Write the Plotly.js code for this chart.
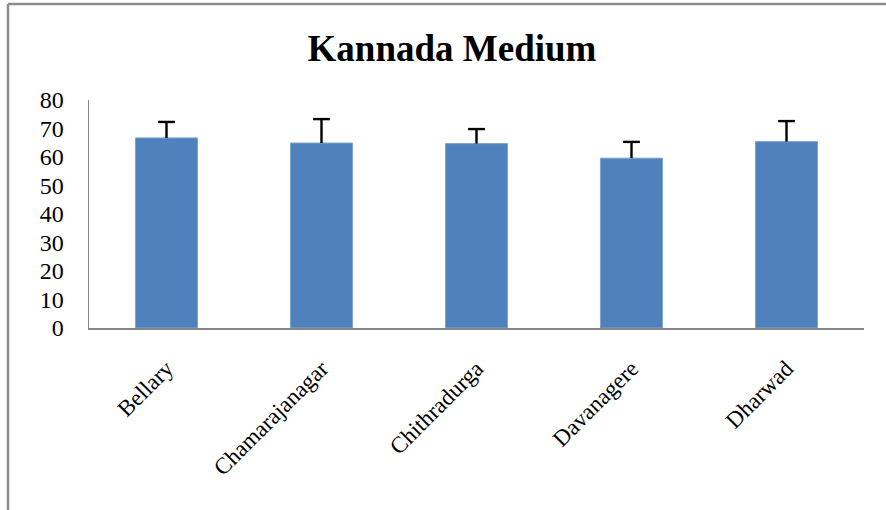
<!DOCTYPE html>
<html><head><meta charset="utf-8">
<script src="https://cdn.plot.ly/plotly-3.0.1.min.js"></script>
<style>html,body{margin:0;padding:0;background:#fff}#chart{width:886px;height:510px}</style>
</head><body><div id="chart"></div>
<script>
const categories = ["Bellary", "Chamarajanagar", "Chithradurga", "Davanagere", "Dharwad"];
const means = [66.7, 64.9, 64.7, 59.6, 65.4];
const errPlus = [5.6, 8.4, 5.1, 5.7, 7.2];
const errMinus = [0, 0, 0, 0, 0];
const yTicks = [0, 10, 20, 30, 40, 50, 60, 70, 80];

const W = 886, H = 510, L = 89, R = 22, T = 100, B = 182;
const pw = W - L - R, ph = H - T - B;
const px = x => (x - L) / pw;
const py = y => (H - B - y) / ph;
const SERIF = "Liberation Serif";

const capTops = means.map((m, i) => m + errPlus[i]);

const bars = {
  type: "bar", x: categories, y: means,
  marker: {color: "#4F81BD", line: {color: "#7FA3D0", width: 1}},
  error_y: {type: "data", symmetric: false, array: errPlus, arrayminus: errMinus,
            color: "#000", thickness: 2.4, width: 0},
  hoverinfo: "skip"
};
const caps = {
  type: "scatter", mode: "markers", x: categories, y: capTops,
  marker: {symbol: "line-ew", size: 12, color: "#000", line: {color: "#000", width: 2.4}},
  hoverinfo: "skip", cliponaxis: false
};
const layout = {
  width: W, height: H,
  margin: {l: L, r: R, t: T, b: B},
  paper_bgcolor: "#fff", plot_bgcolor: "#fff",
  bargap: 0.6, showlegend: false,
  font: {family: SERIF, color: "#000"},
  title: {text: "<b>Kannada Medium</b>", x: 452/886, xanchor: "center", y: 1 - 48/510, yanchor: "middle", yref: "container",
          font: {family: SERIF, size: 37, color: "#000"}},
  xaxis: {type: "category", showline: true, linecolor: "#868686", linewidth: 2, ticks: "",
          tickangle: -45, tickfont: {family: SERIF, size: 23}, ticklabelstandoff: 16, showgrid: false, zeroline: false},
  yaxis: {range: [0, 80], tickvals: yTicks, showline: true, linecolor: "#868686", linewidth: 1.5,
          ticks: "", tickfont: {family: SERIF, size: 24}, showgrid: false, zeroline: false, ticklabelstandoff: 19},
  shapes: [
    {type: "line", xref: "paper", yref: "paper", x0: px(8), x1: px(8), y0: py(4), y1: py(560), line: {color: "#8c8c8c", width: 2.5}},
    {type: "line", xref: "paper", yref: "paper", x0: px(8), x1: px(900), y0: py(4), y1: py(4), line: {color: "#8c8c8c", width: 2.5}}
  ]
};
Plotly.newPlot("chart", [bars, caps], layout, {staticPlot: true, displayModeBar: false});
</script></body></html>
